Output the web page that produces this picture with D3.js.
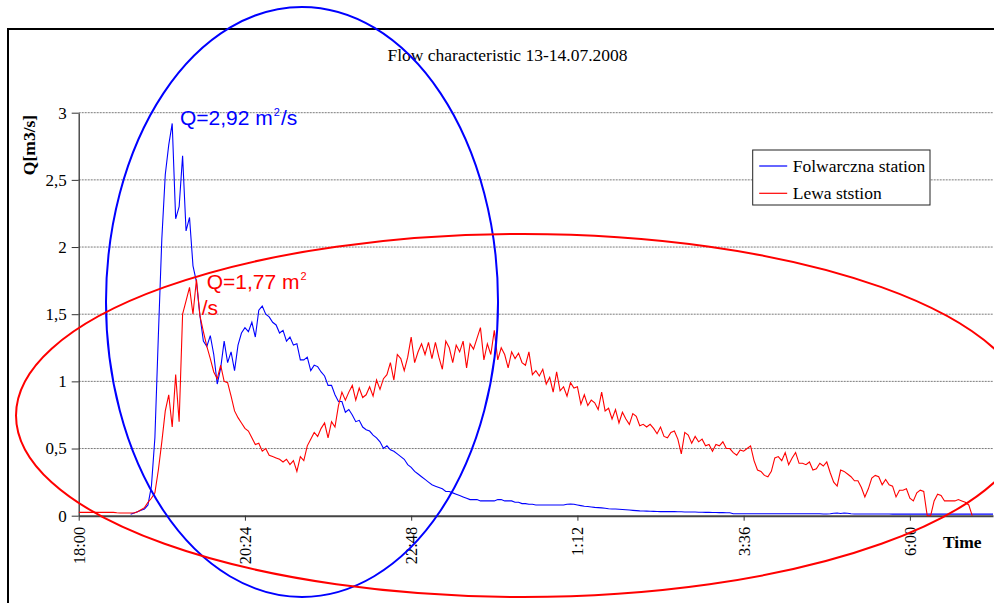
<!DOCTYPE html>
<html>
<head>
<meta charset="utf-8">
<script src="https://cdn.jsdelivr.net/npm/d3@7"></script>
<style>
  body { margin: 0; background: #fff; }
</style>
</head>
<body>
<div id="chart"></div>
<script>

// ------ Data ---------------//
// one reading every 3 minutes, start given in minutes after 18:00
var stepMinutes = 3;
var folwarcznaStart = 45;
var lewaStart = 0;

var folwarcznaQ = [
  0.01, 0.02, 0.03, 0.04, 0.05, 0.08, 0.22, 0.58, 1.34, 2.06,
  2.54, 2.76, 2.92, 2.21, 2.30, 2.68, 2.12, 2.22, 1.86, 1.74,
  1.49, 1.30, 1.26, 1.34, 1.20, 0.98, 1.10, 1.30, 1.14, 1.22,
  1.08, 1.27, 1.36, 1.40, 1.37, 1.44, 1.33, 1.53, 1.56, 1.50,
  1.48, 1.44, 1.42, 1.36, 1.38, 1.30, 1.33, 1.27, 1.28, 1.16,
  1.16, 1.18, 1.08, 1.12, 1.11, 1.07, 1.04, 0.97, 0.97, 0.90,
  0.85, 0.85, 0.77, 0.79, 0.75, 0.70, 0.71, 0.66, 0.64, 0.63,
  0.60, 0.58, 0.55, 0.50, 0.52, 0.49, 0.48, 0.46, 0.44, 0.42,
  0.38, 0.36, 0.33, 0.31, 0.29, 0.27, 0.25, 0.23, 0.22, 0.21,
  0.20, 0.18, 0.18, 0.17, 0.16, 0.15, 0.14, 0.13, 0.12, 0.12,
  0.12, 0.11, 0.11, 0.11, 0.11, 0.11, 0.12, 0.12, 0.11, 0.11,
  0.11, 0.10, 0.10, 0.09, 0.09, 0.085, 0.085, 0.08, 0.08, 0.08,
  0.08, 0.08, 0.08, 0.08, 0.08, 0.08, 0.085, 0.087, 0.085, 0.08,
  0.075, 0.07, 0.068, 0.065, 0.062, 0.06, 0.058, 0.055, 0.052, 0.05,
  0.05, 0.048, 0.046, 0.044, 0.042, 0.04, 0.038, 0.036, 0.035, 0.034,
  0.033, 0.032, 0.031, 0.03, 0.03, 0.03, 0.03, 0.03, 0.029, 0.029,
  0.028, 0.028, 0.027, 0.027, 0.026, 0.026, 0.025, 0.025, 0.024, 0.024,
  0.023, 0.023, 0.022, 0.022, 0.015, 0.015, 0.015, 0.015, 0.015, 0.015,
  0.015, 0.015, 0.015, 0.015, 0.015, 0.015, 0.015, 0.015, 0.015, 0.015,
  0.014, 0.014, 0.014, 0.014, 0.014, 0.014, 0.014, 0.014, 0.014, 0.014,
  0.013, 0.013, 0.014, 0.018, 0.02, 0.016, 0.02, 0.018, 0.015, 0.013,
  0.013, 0.013, 0.013, 0.013, 0.013, 0.013, 0.013, 0.013, 0.013, 0.013,
  0.012, 0.012, 0.012, 0.012, 0.012, 0.012, 0.012, 0.012, 0.012, 0.012,
  0.012, 0.012, 0.012, 0.012, 0.012, 0.012, 0.012, 0.012, 0.012, 0.012,
  0.012, 0.012, 0.012, 0.012, 0.012, 0.012, 0.012, 0.012, 0.012, 0.012
];

var lewaQ = [
  0.025, 0.025, 0.025, 0.025, 0.025, 0.025, 0.025, 0.025, 0.025, 0.025,
  0.025, 0.022, 0.02, 0.02, 0.02, 0.02, 0.02, 0.03, 0.045, 0.06,
  0.10, 0.13, 0.17, 0.34, 0.55, 0.78, 0.90, 0.66, 1.05, 0.70,
  1.50, 1.60, 1.70, 1.50, 1.76, 1.49, 1.37, 1.26, 1.17, 1.07,
  1.02, 1.12, 1.00, 0.99, 0.89, 0.78, 0.73, 0.69, 0.65, 0.63,
  0.58, 0.53, 0.54, 0.48, 0.50, 0.45, 0.44, 0.43, 0.42, 0.40,
  0.42, 0.38, 0.41, 0.33, 0.44, 0.41, 0.52, 0.57, 0.62, 0.59,
  0.65, 0.69, 0.58, 0.70, 0.66, 0.82, 0.92, 0.86, 0.92, 0.97,
  0.86, 0.95, 0.88, 0.90, 0.96, 0.89, 1.01, 0.94, 1.02, 1.05,
  1.14, 1.01, 1.20, 1.17, 1.08, 1.18, 1.33, 1.14, 1.22, 1.28,
  1.20, 1.29, 1.17, 1.29, 1.18, 1.09, 1.30, 1.25, 1.14, 1.27,
  1.22, 1.30, 1.10, 1.28, 1.24, 1.32, 1.40, 1.16, 1.28, 1.20,
  1.38, 1.16, 1.25, 1.20, 1.10, 1.22, 1.17, 1.21, 1.14, 1.12,
  1.22, 1.05, 1.08, 1.04, 1.09, 0.98, 1.03, 0.92, 1.07, 0.93,
  0.96, 0.89, 0.99, 0.95, 0.96, 0.83, 0.90, 0.82, 0.86, 0.84,
  0.79, 0.92, 0.78, 0.80, 0.72, 0.79, 0.69, 0.77, 0.72, 0.68,
  0.76, 0.74, 0.67, 0.68, 0.66, 0.68, 0.65, 0.61, 0.66, 0.59,
  0.58, 0.62, 0.63, 0.57, 0.46, 0.62, 0.60, 0.54, 0.59, 0.55,
  0.57, 0.52, 0.53, 0.48, 0.53, 0.52, 0.55, 0.50, 0.50, 0.47,
  0.45, 0.49, 0.48, 0.50, 0.52, 0.41, 0.34, 0.33, 0.30, 0.29,
  0.33, 0.43, 0.44, 0.41, 0.47, 0.38, 0.43, 0.47, 0.39, 0.39,
  0.38, 0.40, 0.34, 0.35, 0.39, 0.37, 0.40, 0.32, 0.25, 0.22,
  0.34, 0.33, 0.31, 0.29, 0.26, 0.26, 0.21, 0.14, 0.20, 0.28,
  0.30, 0.29, 0.23, 0.27, 0.23, 0.22, 0.14, 0.19, 0.19, 0.20,
  0.13, 0.11, 0.17, 0.19, 0.18, 0.00, 0.00, 0.11, 0.16, 0.15,
  0.11, 0.11, 0.11, 0.11, 0.12, 0.11, 0.10, 0.08, 0.00
];

var seriesNames = ["Folwarczna station", "Lewa ststion"];
var seriesColors = ["#0000ff", "#ff0000"];

var yTicks = [0, 0.5, 1, 1.5, 2, 2.5, 3];
var yTickLabels = ["0", "0,5", "1", "1,5", "2", "2,5", "3"];
var xTicks = [0, 2.4, 4.8, 7.2, 9.6, 12];          // hours after 18:00
var xTickLabels = ["18:00", "20:24", "22:48", "1:12", "3:36", "6:00"];
var xMaxHours = 13.2;
var yMax = 3;

var chartTitle = "Flow characteristic 13-14.07.2008";

// ------ Preliminaries ---------------//
{
var width = 994, height = 603;
var serif = "Liberation Serif, Times New Roman, serif";
var sans = "Liberation Sans, Arial, sans-serif";

var svg = d3.select("#chart").append("svg")
              .attr("width", width)
              .attr("height", height)
              .attr("font-family", serif);

svg.append("rect")
     .attr("width", width)
     .attr("height", height)
     .attr("fill", "#fff");

// chart frame, right and bottom edges run off the picture
svg.append("rect")
     .attr("x", 8).attr("y", 29)
     .attr("width", 1000).attr("height", 620)
     .attr("fill", "none")
     .attr("stroke", "#000")
     .attr("stroke-width", 2);

var plot = ({ left: 78.7, right: 993, top: 112.7, bottom: 515.7 });
}

// ------ Scales ---------------//
{
var x = d3.scaleLinear()
    .domain([0, xMaxHours])
    .range([plot.left, plot.right]);

var y = d3.scaleLinear()
    .domain([0, yMax])
    .range([plot.bottom, plot.top]);
}

// ------ Gridlines ---------------//
{
svg.append("g")
     .selectAll("line")
     .data(yTicks.filter(d => d > 0))
     .join("line")
       .attr("x1", plot.left)
       .attr("x2", plot.right)
       .attr("y1", d => y(d))
       .attr("y2", d => y(d))
       .attr("stroke", "#7a7a7a")
       .attr("stroke-dasharray", "2,1")
       .attr("stroke-width", 1);
}

// ------ Axes ---------------//
{
var yAxis = g => g
    .attr("transform", `translate(${plot.left},0)`)
    .call(d3.axisLeft(y)
      .tickValues(yTicks)
      .tickFormat((d, i) => yTickLabels[i])
      .tickSize(7)
      .tickSizeOuter(0)
      .tickPadding(5));

var xAxis = g => g
    .attr("transform", `translate(0,${plot.bottom})`)
    .call(d3.axisBottom(x)
      .tickValues(xTicks)
      .tickFormat((d, i) => xTickLabels[i])
      .tickSize(5)
      .tickSizeOuter(0));

var gy = svg.append("g").call(yAxis);
gy.select(".domain").attr("stroke", "#333").attr("stroke-width", 1.3);
gy.selectAll(".tick line").attr("stroke", "#333");
gy.selectAll("text")
    .attr("font-family", serif)
    .attr("font-size", 17)
    .attr("fill", "#000");

var gx = svg.append("g").call(xAxis);
gx.select(".domain").attr("stroke", "#444").attr("stroke-width", 2);
gx.selectAll(".tick line").attr("stroke", "#333");
gx.selectAll("text")
    .attr("font-family", serif)
    .attr("font-size", 16.5)
    .attr("fill", "#000")
    .attr("transform", "rotate(-90)")
    .attr("text-anchor", "end")
    .attr("x", -11)
    .attr("y", 0)
    .attr("dy", "0.33em");
}

// ------ Draw lines ---------------//
{
var seriesLine = start => d3.line()
    .x((d, i) => x((start + i * stepMinutes) / 60))
    .y(d => y(d));

svg.append("clipPath").attr("id", "plotClip")
     .append("rect")
     .attr("x", plot.left).attr("y", 0)
     .attr("width", plot.right - plot.left)
     .attr("height", plot.bottom + 2);

svg.append("path")
     .datum(folwarcznaQ)
     .attr("d", seriesLine(folwarcznaStart))
     .attr("clip-path", "url(#plotClip)")
     .attr("fill", "none")
     .attr("stroke", seriesColors[0])
     .attr("stroke-width", 1.1);

svg.append("path")
     .datum(lewaQ)
     .attr("d", seriesLine(lewaStart))
     .attr("clip-path", "url(#plotClip)")
     .attr("fill", "none")
     .attr("stroke", seriesColors[1])
     .attr("stroke-width", 1.1);
}

// ------ Annotations ---------------//
{
// title
svg.append("text")
     .attr("x", 507.5)
     .attr("y", 61)
     .attr("text-anchor", "middle")
     .attr("font-size", 17.5)
     .text(chartTitle);

// axis titles
svg.append("text")
     .attr("transform", "translate(35,145) rotate(-90)")
     .attr("text-anchor", "middle")
     .attr("font-size", 17.5)
     .attr("font-weight", "bold")
     .text("Q[m3/s]");

svg.append("text")
     .attr("x", 943)
     .attr("y", 548)
     .attr("font-size", 17.5)
     .attr("font-weight", "bold")
     .text("Time");

// hand drawn ellipses, centre and radii in hours / m3/s
var ellipses = [
  { cx: 3.224, cy: 1.591, rx: 2.830, ry: 2.196, color: seriesColors[0] },
  { cx: 6.414, cy: 0.746, rx: 7.319, ry: 1.351, color: seriesColors[1] }
];

svg.append("g")
     .selectAll("ellipse")
     .data(ellipses)
     .join("ellipse")
       .attr("cx", d => x(d.cx))
       .attr("cy", d => y(d.cy))
       .attr("rx", d => x(d.rx) - x(0))
       .attr("ry", d => y(0) - y(d.ry))
       .attr("fill", "none")
       .attr("stroke", d => d.color)
       .attr("stroke-width", 2);

// peak labels with a small squared sign after the "m"
var blueLabel = svg.append("text")
     .attr("x", x(1.462)).attr("y", y(2.909))
     .attr("font-family", sans).attr("font-size", 21)
     .attr("fill", seriesColors[0]);
blueLabel.append("tspan").text("Q=2,92 m");
blueLabel.append("tspan")
     .attr("dx", 1).attr("dy", -9)
     .attr("font-size", 11)
     .text("2");
blueLabel.append("tspan")
     .attr("dx", 1).attr("dy", 9)
     .text("/s");

var redLabel = svg.append("text")
     .attr("x", x(1.848)).attr("y", y(1.685))
     .attr("font-family", sans).attr("font-size", 21)
     .attr("fill", seriesColors[1]);
redLabel.append("tspan").text("Q=1,77 m");
redLabel.append("tspan")
     .attr("dx", 1).attr("dy", -9)
     .attr("font-size", 11)
     .text("2");
redLabel.append("tspan")
     .attr("x", x(1.776)).attr("y", y(1.494))
     .text("/s");
}

// ------ Legend ---------------//
{
var legend = svg.append("g")
                .attr("transform", "translate(752.7,150)");

legend.append("rect")
        .attr("width", 177.3)
        .attr("height", 55)
        .attr("fill", "#fff")
        .attr("stroke", "#222")
        .attr("stroke-width", 1);

var items = legend.selectAll("g")
                  .data(seriesNames)
                  .join("g")
                  .attr("transform", (d, i) => `translate(0,${16 + i * 27.3})`);

items.append("line")
       .attr("x1", 6.5).attr("x2", 34.5)
       .attr("stroke", (d, i) => seriesColors[i])
       .attr("stroke-width", 1.2);

items.append("text")
       .attr("x", 40)
       .attr("y", 5.8)
       .attr("font-size", 17.5)
       .text(d => d);
}

</script>
</body>
</html>
